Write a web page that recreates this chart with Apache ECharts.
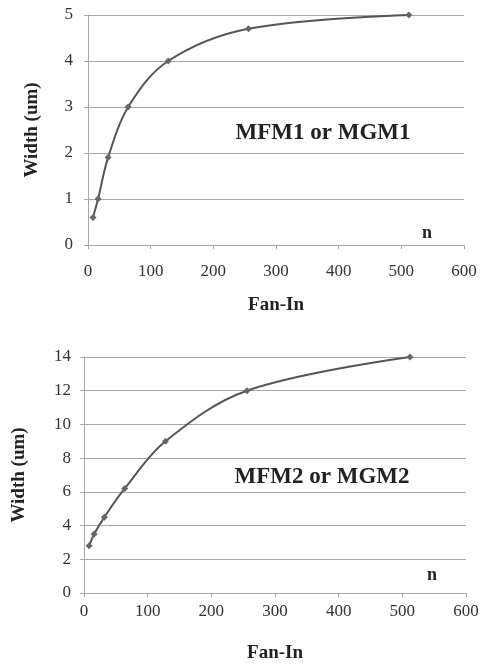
<!DOCTYPE html>
<html><head><meta charset="utf-8">
<script src="https://cdn.jsdelivr.net/npm/echarts@6/dist/echarts.min.js"></script>
<style>html,body{margin:0;padding:0;background:#fff}#c{width:482px;height:670px}</style>
</head><body><div id="c"></div>
<script>
const fanIn = [8, 16, 32, 64, 128, 256, 512];
const width1 = [0.6, 1.0, 1.9, 3.0, 4.0, 4.7, 5.0];
const width2 = [2.8, 3.5, 4.5, 6.2, 9.0, 12.0, 14.0];
const xTicks = [0, 100, 200, 300, 400, 500, 600];
const xTitle = 'Fan-In';
const yTitle = 'Width (um)';
const label1 = 'MFM1 or MGM1';
const label2 = 'MFM2 or MGM2';
const nLabel = 'n';

const font = 'Liberation Serif';
const gridColor = '#a8a8a8';
function xAxis(i,labelMargin){return {type:'value',gridIndex:i,min:xTicks[0],max:xTicks[xTicks.length-1],interval:xTicks[1]-xTicks[0],
  name:xTitle,nameLocation:'middle',nameGap:51,
  nameTextStyle:{fontFamily:font,fontWeight:'bold',fontSize:19,color:'#222'},
  axisLine:{lineStyle:{color:gridColor,width:1}},
  axisTick:{show:true,length:4,lineStyle:{color:gridColor}},
  splitLine:{show:false},
  axisLabel:{fontFamily:font,fontSize:17,color:'#333',margin:labelMargin}};}
function yAxis(i,max,interval,gap,labelMargin){return {type:'value',gridIndex:i,min:0,max:max,interval:interval,
  name:yTitle,nameLocation:'middle',nameGap:gap,
  nameTextStyle:{fontFamily:font,fontWeight:'bold',fontSize:19,color:'#222'},
  axisLine:{show:true,lineStyle:{color:gridColor,width:1}},
  axisTick:{show:true,length:4,lineStyle:{color:gridColor}},
  splitLine:{show:true,lineStyle:{color:gridColor,width:1}},
  axisLabel:{fontFamily:font,fontSize:17,color:'#333',margin:labelMargin}};}
function series(i,ys){return {type:'line',xAxisIndex:i,yAxisIndex:i,
  data:fanIn.map((x,k)=>[x,ys[k]]),smooth:0.35,
  symbol:'diamond',symbolSize:7,
  lineStyle:{color:'#555',width:2},itemStyle:{color:'#666'}};}
const chart = echarts.init(document.getElementById('c'));
chart.setOption({
  animation:false,
  grid:[{left:88,right:18,top:15,height:230},{left:84,right:16,top:357,height:236}],
  xAxis:[xAxis(0,18),xAxis(1,10)],
  yAxis:[yAxis(0,5,1,46,15),yAxis(1,14,2,55,13)],
  series:[series(0,width1),series(1,width2)],
  graphic:[
    {type:'text',x:323,y:133,style:{text:label1,fontFamily:font,fontWeight:'bold',fontSize:23,fill:'#222',align:'center',verticalAlign:'middle'}},
    {type:'text',x:427,y:233,style:{text:nLabel,fontFamily:font,fontWeight:'bold',fontSize:18,fill:'#222',align:'center',verticalAlign:'middle'}},
    {type:'text',x:322,y:477,style:{text:label2,fontFamily:font,fontWeight:'bold',fontSize:23,fill:'#222',align:'center',verticalAlign:'middle'}},
    {type:'text',x:432,y:575,style:{text:nLabel,fontFamily:font,fontWeight:'bold',fontSize:18,fill:'#222',align:'center',verticalAlign:'middle'}}
  ]
});
</script></body></html>
